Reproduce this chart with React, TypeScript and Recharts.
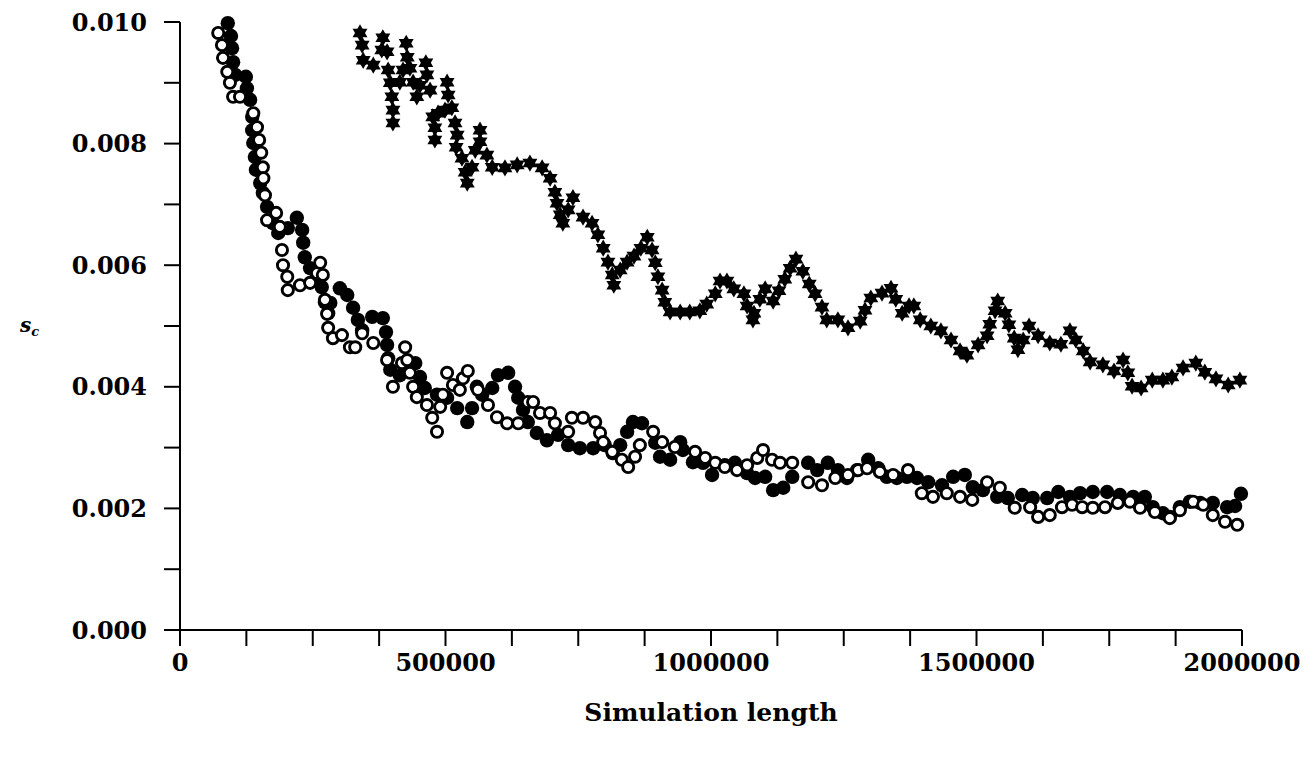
import { ScatterChart, Scatter, XAxis, YAxis } from "recharts";

// simulation length vs s_e, three estimators
const filledCircles: [number, number][] = [
  [90000, 0.00998], [96000, 0.00977], [98000, 0.00957], [100000, 0.00934], [104000, 0.00913],
  [124000, 0.0091], [126000, 0.00891], [132000, 0.00872], [136000, 0.00844], [136000, 0.00822],
  [138000, 0.00801], [141000, 0.00778], [143000, 0.00757], [151000, 0.00735], [156000, 0.00719],
  [164000, 0.00696], [175000, 0.00669], [185000, 0.00653], [203000, 0.00661], [220000, 0.00678],
  [230000, 0.00658], [232000, 0.00637], [235000, 0.00613], [245000, 0.00595], [258000, 0.00581],
  [267000, 0.00564], [273000, 0.00539], [279000, 0.00521], [283000, 0.00538], [301000, 0.00562],
  [315000, 0.00551], [326000, 0.0053], [335000, 0.0051], [343000, 0.00493], [362000, 0.00515],
  [382000, 0.00513], [388000, 0.0049], [390000, 0.00469], [392000, 0.00447], [396000, 0.00428],
  [414000, 0.00419], [443000, 0.00439], [452000, 0.00416], [461000, 0.00398], [484000, 0.00387],
  [503000, 0.00382], [522000, 0.00365], [541000, 0.00342], [550000, 0.00365], [559000, 0.004],
  [569000, 0.00387], [588000, 0.00398], [599000, 0.00419], [618000, 0.00423], [631000, 0.004],
  [637000, 0.00382], [646000, 0.00362], [655000, 0.00342], [672000, 0.00324], [691000, 0.00312],
  [712000, 0.00321], [731000, 0.00304], [753000, 0.00299], [778000, 0.00299], [800000, 0.00304],
  [815000, 0.00291], [829000, 0.00304], [842000, 0.00326], [853000, 0.00342], [870000, 0.0034],
  [895000, 0.00308], [904000, 0.00285], [923000, 0.0028], [942000, 0.00309], [947000, 0.00296],
  [966000, 0.00276], [985000, 0.00275], [1002000, 0.00255], [1026000, 0.00271], [1045000, 0.00275],
  [1068000, 0.00258], [1083000, 0.0025], [1102000, 0.00252], [1117000, 0.0023], [1136000, 0.00234],
  [1153000, 0.00252], [1183000, 0.00275], [1200000, 0.00263], [1220000, 0.00275], [1239000, 0.00263],
  [1256000, 0.0025], [1275000, 0.00263], [1296000, 0.0028], [1315000, 0.00266], [1331000, 0.00252],
  [1350000, 0.0025], [1369000, 0.00252], [1388000, 0.0025], [1409000, 0.00243], [1435000, 0.00238],
  [1456000, 0.00252], [1478000, 0.00255], [1493000, 0.00235], [1512000, 0.0023], [1539000, 0.00219],
  [1559000, 0.00217], [1586000, 0.00222], [1606000, 0.00217], [1633000, 0.00217], [1654000, 0.00227],
  [1676000, 0.00219], [1695000, 0.00225], [1719000, 0.00227], [1746000, 0.00227], [1770000, 0.00222],
  [1795000, 0.00219], [1817000, 0.00219], [1832000, 0.00202], [1851000, 0.00192], [1864000, 0.00186],
  [1883000, 0.00202], [1902000, 0.00211], [1921000, 0.00209], [1945000, 0.00209], [1972000, 0.00202],
  [1987000, 0.00204], [1998000, 0.00224],
];

const openCircles: [number, number][] = [
  [72000, 0.00982], [79000, 0.00962], [81000, 0.00941], [89000, 0.00918], [94000, 0.009],
  [100000, 0.00877], [113000, 0.00877], [138000, 0.0085], [145000, 0.00827], [149000, 0.00806],
  [153000, 0.00785], [156000, 0.00761], [157000, 0.00743], [160000, 0.00715], [164000, 0.00674],
  [181000, 0.00686], [188000, 0.00663], [192000, 0.00625], [194000, 0.006], [202000, 0.00581],
  [203000, 0.00559], [226000, 0.00567], [245000, 0.00571], [258000, 0.00587], [264000, 0.00604],
  [269000, 0.00584], [273000, 0.00543], [277000, 0.0052], [279000, 0.00497], [288000, 0.0048],
  [305000, 0.00485], [320000, 0.00465], [330000, 0.00465], [343000, 0.00488], [364000, 0.00472],
  [390000, 0.00444], [401000, 0.004], [418000, 0.00439], [424000, 0.00465], [428000, 0.00444],
  [433000, 0.00423], [439000, 0.004], [446000, 0.00383], [465000, 0.0037], [475000, 0.00349],
  [484000, 0.00326], [490000, 0.00367], [495000, 0.00387], [503000, 0.00423], [514000, 0.00403],
  [527000, 0.00395], [533000, 0.00414], [542000, 0.00426], [561000, 0.00395], [580000, 0.0037],
  [597000, 0.0035], [616000, 0.0034], [637000, 0.0034], [655000, 0.00375], [665000, 0.00375],
  [678000, 0.00357], [697000, 0.00357], [706000, 0.0034], [731000, 0.00326], [738000, 0.00349],
  [759000, 0.00349], [782000, 0.00342], [791000, 0.00324], [797000, 0.00309], [814000, 0.00293],
  [832000, 0.0028], [844000, 0.00268], [857000, 0.00285], [866000, 0.00304], [891000, 0.00326],
  [908000, 0.00309], [932000, 0.00301], [970000, 0.00293], [989000, 0.00283], [1008000, 0.00275],
  [1026000, 0.00268], [1049000, 0.00263], [1068000, 0.00271], [1087000, 0.00283], [1098000, 0.00296],
  [1115000, 0.0028], [1130000, 0.00275], [1153000, 0.00275], [1183000, 0.00243], [1209000, 0.00238],
  [1234000, 0.0025], [1258000, 0.00255], [1277000, 0.00263], [1294000, 0.00266], [1318000, 0.0026],
  [1343000, 0.00255], [1371000, 0.00263], [1397000, 0.00225], [1418000, 0.00219], [1444000, 0.00225],
  [1469000, 0.00219], [1492000, 0.00214], [1520000, 0.00243], [1544000, 0.00234], [1572000, 0.00201],
  [1601000, 0.00202], [1616000, 0.00186], [1638000, 0.00189], [1661000, 0.00202], [1680000, 0.00206],
  [1699000, 0.00202], [1719000, 0.00201], [1742000, 0.00202], [1766000, 0.00209], [1789000, 0.00211],
  [1808000, 0.00201], [1836000, 0.00194], [1864000, 0.00184], [1883000, 0.00197], [1908000, 0.00211],
  [1927000, 0.00206], [1945000, 0.00189], [1968000, 0.00178], [1991000, 0.00173],
];

const stars: [number, number][] = [
  [339000, 0.00982], [343000, 0.00962], [345000, 0.00937], [364000, 0.00929], [380000, 0.00954],
  [382000, 0.00974], [390000, 0.00951], [392000, 0.00921], [396000, 0.009], [399000, 0.00877],
  [401000, 0.00855], [401000, 0.00834], [414000, 0.00901], [420000, 0.00921], [426000, 0.00965],
  [428000, 0.00942], [433000, 0.00924], [439000, 0.00901], [446000, 0.00877], [452000, 0.00896],
  [463000, 0.00933], [465000, 0.00913], [471000, 0.00888], [476000, 0.00844], [480000, 0.00826],
  [480000, 0.00806], [486000, 0.0085], [499000, 0.00855], [503000, 0.00901], [505000, 0.0088],
  [512000, 0.00859], [518000, 0.00834], [522000, 0.00814], [520000, 0.00794], [531000, 0.00776],
  [537000, 0.00753], [541000, 0.00735], [550000, 0.00761], [556000, 0.00789], [565000, 0.00822],
  [565000, 0.00803], [578000, 0.00781], [588000, 0.00761], [612000, 0.0076], [635000, 0.00765],
  [659000, 0.00768], [682000, 0.0076], [697000, 0.00743], [706000, 0.0072], [710000, 0.00702],
  [716000, 0.00683], [721000, 0.00669], [731000, 0.00691], [740000, 0.00711], [759000, 0.00679],
  [776000, 0.00669], [787000, 0.0065], [797000, 0.00628], [806000, 0.00605], [814000, 0.00584],
  [817000, 0.00567], [829000, 0.00592], [842000, 0.00605], [855000, 0.00615], [868000, 0.00628],
  [880000, 0.00646], [889000, 0.00625], [895000, 0.00604], [900000, 0.00581], [908000, 0.00559],
  [913000, 0.00539], [923000, 0.00523], [942000, 0.00523], [960000, 0.00523], [979000, 0.00525],
  [992000, 0.00536], [1008000, 0.00553], [1017000, 0.00574], [1030000, 0.00574], [1043000, 0.00561],
  [1062000, 0.00553], [1068000, 0.00533], [1081000, 0.00521], [1079000, 0.0051], [1092000, 0.00544],
  [1102000, 0.00561], [1117000, 0.00541], [1128000, 0.00558], [1139000, 0.00577], [1149000, 0.00595],
  [1160000, 0.0061], [1173000, 0.0059], [1185000, 0.00569], [1196000, 0.00553], [1209000, 0.00531],
  [1218000, 0.0051], [1239000, 0.0051], [1258000, 0.00497], [1281000, 0.00508], [1290000, 0.00526],
  [1301000, 0.00546], [1322000, 0.00554], [1339000, 0.00562], [1348000, 0.00544], [1360000, 0.00521],
  [1373000, 0.00533], [1382000, 0.00533], [1394000, 0.0051], [1414000, 0.005], [1433000, 0.00492],
  [1452000, 0.00477], [1469000, 0.00459], [1482000, 0.00452], [1503000, 0.00469], [1520000, 0.00484],
  [1525000, 0.00503], [1535000, 0.00525], [1540000, 0.00541], [1554000, 0.00521], [1561000, 0.00502],
  [1571000, 0.0048], [1578000, 0.00461], [1588000, 0.00477], [1599000, 0.005], [1616000, 0.00484],
  [1638000, 0.00472], [1659000, 0.0047], [1676000, 0.00492], [1687000, 0.00477], [1701000, 0.00459],
  [1714000, 0.00441], [1738000, 0.00436], [1759000, 0.00426], [1776000, 0.00444], [1785000, 0.00423],
  [1793000, 0.00401], [1810000, 0.00398], [1831000, 0.00411], [1851000, 0.00411], [1868000, 0.00416],
  [1889000, 0.00431], [1913000, 0.00439], [1930000, 0.00424], [1951000, 0.00413], [1974000, 0.00403],
  [1996000, 0.00411],
];

const xTicks = [0, 125000, 250000, 375000, 500000, 625000, 750000, 875000, 1000000,
  1125000, 1250000, 1375000, 1500000, 1625000, 1750000, 1875000, 2000000];
const yTicks = [0, 0.001, 0.002, 0.003, 0.004, 0.005, 0.006, 0.007, 0.008, 0.009, 0.01];

const toPoints = (arr: [number, number][]) => arr.map(([x, y]) => ({ x, y }));

const font = "'DejaVu Serif', serif";
const tickStyle = { fontFamily: font, fontWeight: "bold", fontSize: 24, fill: "#000" };

const FilledDot = (p: any) => <circle cx={p.cx} cy={p.cy} r={7.2} fill="#000" />;
const OpenDot = (p: any) => (
  <circle cx={p.cx} cy={p.cy} r={5.6} fill="#fff" stroke="#000" strokeWidth={2.9} />
);
const StarDot = (p: any) => {
  const r = 8.6;
  const pt = (a: number) => {
    const rad = (a * Math.PI) / 180;
    return `${p.cx + r * Math.cos(rad)},${p.cy + r * Math.sin(rad)}`;
  };
  return (
    <g>
      <polygon points={[-90, 30, 150].map(pt).join(" ")} fill="#000" />
      <polygon points={[90, 210, 330].map(pt).join(" ")} fill="#000" />
      <circle cx={p.cx} cy={p.cy} r={r * 0.55} fill="#000" />
    </g>
  );
};

export default function App() {
  return (
    <div style={{ background: "#fff" }}>
      <ScatterChart width={1297} height={741} margin={{ top: 14, right: 63, bottom: 0, left: 0 }}>
        <XAxis
          type="number"
          dataKey="x"
          domain={[0, 2000000]}
          ticks={xTicks}
          interval={0}
          tickFormatter={(v: number) => (v % 500000 === 0 ? String(v) : "")}
          height={119}
          tickSize={16}
          tickMargin={8}
          stroke="#000"
          axisLine={{ stroke: "#000", strokeWidth: 2 }}
          tickLine={{ stroke: "#000", strokeWidth: 2 }}
          tick={tickStyle}
          label={{
            content: () => (
              <text x={703} y={713} textAnchor="middle" fontFamily={font} fontWeight="bold" fontSize={25} fill="#000">
                Simulation length
              </text>
            ),
          }}
        />
        <YAxis
          type="number"
          dataKey="y"
          domain={[0, 0.01]}
          ticks={yTicks}
          interval={0}
          tickFormatter={(v: number) => (Math.round(v * 1000) % 2 === 0 ? v.toFixed(3) : "")}
          width={172}
          tickSize={16}
          tickMargin={17}
          stroke="#000"
          axisLine={{ stroke: "#000", strokeWidth: 2 }}
          tickLine={{ stroke: "#000", strokeWidth: 2 }}
          tick={tickStyle}
          label={{
            content: () => (
              <text x={12} y={324} fontFamily={font} fontStyle="italic" fontWeight="bold" fontSize={20} fill="#000">
                s<tspan fontSize={13} dy={4}>c</tspan>
              </text>
            ),
          }}
        />
        <Scatter data={toPoints(stars)} shape={StarDot} isAnimationActive={false} />
        <Scatter data={toPoints(filledCircles)} shape={FilledDot} isAnimationActive={false} />
        <Scatter data={toPoints(openCircles)} shape={OpenDot} isAnimationActive={false} />
      </ScatterChart>
    </div>
  );
}
